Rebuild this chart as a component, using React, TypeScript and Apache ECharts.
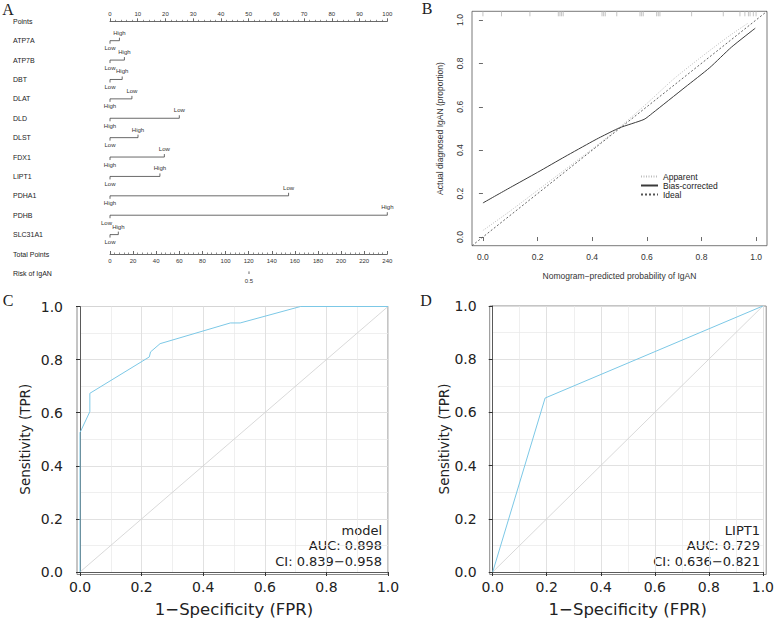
import React, { useEffect, useRef } from "react";
import * as echarts from "echarts";

// ---------- Panel A: nomogram ----------
const rowNames = ["Points", "ATP7A", "ATP7B", "DBT", "DLAT", "DLD", "DLST", "FDX1", "LIPT1", "PDHA1", "PDHB", "SLC31A1", "Total Points"];
const variables = ["ATP7A", "ATP7B", "DBT", "DLAT", "DLD", "DLST", "FDX1", "LIPT1", "PDHA1", "PDHB", "SLC31A1"];
const highPoints = [3.4, 5.2, 4.4, 0, 0, 10.1, 0, 18, 0, 100, 3];
const lowPoints = [0, 0, 0, 7.9, 25, 0, 19.6, 0, 64.4, 0, 0];
const riskLabel = "Risk of IgAN";
const riskValues = ["0.5"];
const riskTotalPoints = [120.3];

// ---------- Panel B: calibration ----------
const calTicks = [0, 0.2, 0.4, 0.6, 0.8, 1.0];
const apparentX = [0, 0.1, 0.2, 0.3, 0.4, 0.5, 0.6, 0.7, 0.8, 0.9, 0.97];
const apparentY = [0.03, 0.12, 0.215, 0.31, 0.405, 0.505, 0.615, 0.73, 0.83, 0.925, 0.985];
const biasX = [0, 0.1, 0.2, 0.3, 0.4, 0.43, 0.5, 0.59, 0.62, 0.74, 0.83, 0.91, 0.997];
const biasY = [0.157, 0.228, 0.298, 0.37, 0.44, 0.46, 0.503, 0.542, 0.57, 0.69, 0.78, 0.875, 0.962];
const idealX = [-0.04, 1.04];
const rugX = [0, 0.068, 0.172, 0.276, 0.282, 0.288, 0.294, 0.436, 0.442, 0.448, 0.49, 0.575, 0.581, 0.587, 0.636, 0.642, 0.648, 0.764, 0.88, 0.941, 0.959, 0.972, 0.978, 0.99, 1.0];

// ---------- Panel C / D: ROC ----------
const fprC = [0, 0, 0.032, 0.032, 0.225, 0.229, 0.26, 0.488, 0.52, 0.716, 1.0];
const tprC = [0, 0.525, 0.604, 0.673, 0.81, 0.829, 0.86, 0.938, 0.938, 1.0, 1.0];
const fprD = [0, 0.194, 1.0];
const tprD = [0, 0.654, 1.0];
const diagonal = [0, 1];
const annotC = ["model", "AUC: 0.898", "CI: 0.839\u22120.958"];
const annotD = ["LIPT1", "AUC: 0.729", "CI: 0.636\u22120.821"];

const SANS = "Liberation Sans";
const DJ = "DejaVu Sans";
const SERIF = "Liberation Serif";

function rocAxes(gridIndex: number, yNameGap: number, yMargin: number) {
  const common = {
    gridIndex,
    type: "value",
    min: 0,
    max: 1,
    interval: 0.2,
    axisLine: { show: true, lineStyle: { color: "#5a5a5a", width: 1 } },
    axisTick: { show: true, length: 4, lineStyle: { color: "#333", width: 1 } },
    minorTick: { show: true, splitNumber: 2, length: 0, lineStyle: { color: "#fff", width: 0 } },
    splitLine: { show: true, lineStyle: { color: "#dedede", width: 0.9 } },
    minorSplitLine: { show: true, lineStyle: { color: "#e8e8e8", width: 0.7 } },
    nameLocation: "middle",
  };
  const x = {
    ...common,
    position: "bottom",
    axisLabel: { fontFamily: DJ, fontSize: 14, color: "#222", margin: 8, formatter: (v: number) => v.toFixed(1) },
    name: "1\u2212Specificity (FPR)",
    nameGap: 29,
    nameTextStyle: { fontFamily: DJ, fontSize: 16.5, color: "#222" },
  };
  const y = {
    ...common,
    position: "left",
    offset: 3,
    axisLabel: { fontFamily: DJ, fontSize: 14, color: "#222", margin: yMargin, formatter: (v: number) => v.toFixed(1) },
    name: "Sensitivity (TPR)",
    nameGap: yNameGap,
    nameTextStyle: { fontFamily: DJ, fontSize: 13.5, color: "#222" },
  };
  return { x, y };
}

export default function App() {
  const ref = useRef<HTMLDivElement>(null);
  useEffect(() => {
    if (!ref.current) return;
    const chart = echarts.init(ref.current, null, { renderer: "svg" });
    const rocC = rocAxes(2, 45, 14);
    const rocD = rocAxes(3, 39, 13);
    const calFmt = (v: number) => v.toFixed(1);

    const annotText = (lines: string[], x: number) =>
      lines.map((t, i) => ({
        type: "text",
        x,
        y: 530 + i * 15.8,
        style: { text: t, fontFamily: DJ, fontSize: 13, fill: "#222", align: "right", verticalAlign: "middle" },
      }));

    const letter = (t: string, x: number, y: number) => ({
      type: "text",
      x,
      y,
      style: { text: t, fontFamily: SERIF, fontSize: 16, fill: "#222", align: "center", verticalAlign: "middle" },
    });

    const option: any = {
      animation: false,
      backgroundColor: "#fff",
      grid: [
        { left: 110, top: 21.3, width: 277.3, height: 232.7 },
        { left: 472, top: 11.3, width: 295, height: 234.4, show: true, borderColor: "#555", borderWidth: 0.8, backgroundColor: "transparent" },
        { left: 80, top: 306.5, width: 308, height: 268 },
        { left: 492.7, top: 306, width: 273.5, height: 268.5 },
      ],
      xAxis: [
        {
          gridIndex: 0, type: "value", position: "top", min: 0, max: 100, interval: 10,
          axisLine: { show: true, lineStyle: { color: "#444", width: 0.8 } },
          axisTick: { show: true, length: 3, lineStyle: { color: "#444", width: 0.8 } },
          minorTick: { show: true, splitNumber: 5, length: 1.5, lineStyle: { color: "#444", width: 0.6 } },
          axisLabel: { fontFamily: SANS, fontSize: 6, color: "#333", margin: 4 },
          splitLine: { show: false },
        },
        {
          gridIndex: 0, type: "value", position: "bottom", min: 0, max: 240, interval: 20,
          axisLine: { show: true, lineStyle: { color: "#444", width: 0.8 } },
          axisTick: { show: true, inside: true, length: 3, lineStyle: { color: "#444", width: 0.8 } },
          minorTick: { show: true, splitNumber: 5, length: 1.5, lineStyle: { color: "#444", width: 0.6 } },
          axisLabel: { fontFamily: SANS, fontSize: 6, color: "#333", margin: 4 },
          splitLine: { show: false },
        },
        {
          gridIndex: 1, type: "value", min: -0.04, max: 1.04,
          axisLine: { show: false },
          axisTick: { show: true, length: 4, customValues: calTicks, lineStyle: { color: "#444", width: 0.8 } },
          axisLabel: { customValues: calTicks, fontFamily: SANS, fontSize: 8.5, color: "#333", margin: 7, formatter: calFmt },
          splitLine: { show: false },
          name: "Nomogram\u2212predicted probability of IgAN",
          nameLocation: "middle",
          nameGap: 26,
          nameTextStyle: { fontFamily: SANS, fontSize: 8.5, color: "#333" },
        },
        rocC.x,
        rocD.x,
      ],
      yAxis: [
        {
          gridIndex: 0, type: "value", min: 0, max: 12, interval: 1, inverse: true,
          axisLine: { show: false }, axisTick: { show: false }, splitLine: { show: false },
          axisLabel: {
            fontFamily: SANS, fontSize: 7, color: "#222", align: "left", margin: 97,
            formatter: (v: number) => rowNames[Math.round(v)] ?? "",
          },
        },
        {
          gridIndex: 1, type: "value", min: -0.04, max: 1.04,
          axisLine: { show: false },
          axisTick: { show: true, length: 4, customValues: calTicks, lineStyle: { color: "#444", width: 0.8 } },
          axisLabel: { customValues: calTicks, fontFamily: SANS, fontSize: 8.5, color: "#333", margin: 8, rotate: 90, formatter: calFmt },
          splitLine: { show: false },
          name: "Actual diagnosed IgAN (proportion)",
          nameLocation: "middle",
          nameGap: 28,
          nameTextStyle: { fontFamily: SANS, fontSize: 8.5, color: "#333" },
        },
        rocC.y,
        rocD.y,
      ],
      legend: {
        data: ["Apparent", "Bias-corrected", "Ideal"],
        orient: "vertical",
        left: 640,
        top: 172,
        padding: 0,
        itemGap: 0,
        itemWidth: 17,
        itemHeight: 4,
        selectedMode: false,
        itemStyle: { opacity: 0 },
        textStyle: { fontFamily: SANS, fontSize: 8.5, color: "#222", lineHeight: 9 },
      },
      graphic: [
        {
          type: "rect", silent: true, z: 0,
          shape: { x: 77, y: 306.5, width: 311, height: 268 },
          style: { fill: "none", stroke: "#8a8a8a", lineWidth: 1 },
        },
        {
          type: "rect", silent: true, z: 0,
          shape: { x: 489.7, y: 306, width: 276.5, height: 268.5 },
          style: { fill: "none", stroke: "#8a8a8a", lineWidth: 1 },
        },
        {
          type: "text", x: 13, y: 273.4,
          style: { text: riskLabel, fontFamily: SANS, fontSize: 7, fill: "#222", align: "left", verticalAlign: "middle" },
        },
        ...annotText(annotC, 382),
        ...annotText(annotD, 760),
        letter("A", 8, 9),
        letter("B", 427, 8),
        letter("C", 8, 300),
        letter("D", 426, 300),
      ],
      series: [
        {
          type: "custom",
          xAxisIndex: 0,
          yAxisIndex: 0,
          clip: false,
          silent: true,
          data: variables.map((_, i) => [i + 1, Math.min(highPoints[i], lowPoints[i]), Math.max(highPoints[i], lowPoints[i])]),
          renderItem: (params: any, api: any) => {
            const i = params.dataIndex;
            const row = api.value(0);
            const a = api.coord([api.value(1), row]);
            const b = api.coord([api.value(2), row]);
            const leftLabel = highPoints[i] <= lowPoints[i] ? "High" : "Low";
            const rightLabel = leftLabel === "High" ? "Low" : "High";
            let shift = 0;
            if (i + 1 < variables.length) {
              const nextEnd = api.coord([Math.max(highPoints[i + 1], lowPoints[i + 1]), row + 1]);
              if (nextEnd[0] - a[0] < 10) shift = 3.5;
            }
            const ls = { stroke: "#444", lineWidth: 0.8 };
            const ts = { fontFamily: SANS, fontSize: 6, fill: "#333", align: "center", verticalAlign: "middle" };
            return {
              type: "group",
              children: [
                { type: "line", shape: { x1: a[0], y1: a[1], x2: b[0], y2: b[1] }, style: ls },
                { type: "line", shape: { x1: a[0], y1: a[1], x2: a[0], y2: a[1] + 3 }, style: ls },
                { type: "line", shape: { x1: b[0], y1: b[1], x2: b[0], y2: b[1] - 3 }, style: ls },
                { type: "text", x: a[0] - shift, y: a[1] + 7.5, style: { ...ts, text: leftLabel } },
                { type: "text", x: b[0], y: b[1] - 8, style: { ...ts, text: rightLabel } },
              ],
            };
          },
        },
        {
          type: "custom",
          xAxisIndex: 1,
          yAxisIndex: 0,
          clip: false,
          silent: true,
          data: riskTotalPoints.map((p) => [p, 13]),
          renderItem: (params: any, api: any) => {
            const i = params.dataIndex;
            const c = api.coord([api.value(0), api.value(1)]);
            return {
              type: "group",
              children: [
                { type: "line", shape: { x1: c[0], y1: c[1] + 0.6, x2: c[0], y2: c[1] - 2 }, style: { stroke: "#444", lineWidth: 0.8 } },
                { type: "text", x: c[0], y: c[1] + 7.3, style: { text: riskValues[i], fontFamily: SANS, fontSize: 6, fill: "#333", align: "center", verticalAlign: "middle" } },
              ],
            };
          },
        },
        {
          name: "Apparent",
          type: "line",
          xAxisIndex: 2,
          yAxisIndex: 1,
          symbol: "none",
          smooth: 0.2,
          silent: true,
          data: apparentX.map((x, i) => [x, apparentY[i]]),
          lineStyle: { color: "#bdbdbd", width: 1, type: [1, 1.5] },
          itemStyle: { color: "#bdbdbd" },
        },
        {
          name: "Bias-corrected",
          type: "line",
          xAxisIndex: 2,
          yAxisIndex: 1,
          symbol: "none",
          smooth: 0.2,
          silent: true,
          data: biasX.map((x, i) => [x, biasY[i]]),
          lineStyle: { color: "#3a3a3a", width: 1 },
          itemStyle: { color: "#3a3a3a" },
        },
        {
          name: "Ideal",
          type: "line",
          xAxisIndex: 2,
          yAxisIndex: 1,
          symbol: "none",
          silent: true,
          data: idealX.map((x) => [x, x]),
          lineStyle: { color: "#555", width: 0.9, type: [2, 2] },
          itemStyle: { color: "#555" },
        },
        {
          type: "custom",
          xAxisIndex: 2,
          yAxisIndex: 1,
          silent: true,
          clip: false,
          data: rugX.map((x) => [x, 1.04]),
          renderItem: (params: any, api: any) => {
            const c = api.coord([api.value(0), api.value(1)]);
            return { type: "line", shape: { x1: c[0], y1: c[1], x2: c[0], y2: c[1] + 5 }, style: { stroke: "#b5b5b5", lineWidth: 0.8 } };
          },
        },
        {
          type: "line", xAxisIndex: 3, yAxisIndex: 2, symbol: "none", silent: true,
          data: diagonal.map((v) => [v, v]),
          lineStyle: { color: "#cfcfcf", width: 0.8 },
        },
        {
          type: "line", xAxisIndex: 3, yAxisIndex: 2, symbol: "none", silent: true,
          data: fprC.map((x, i) => [x, tprC[i]]),
          lineStyle: { color: "#7cc8e6", width: 1 },
        },
        {
          type: "line", xAxisIndex: 4, yAxisIndex: 3, symbol: "none", silent: true,
          data: diagonal.map((v) => [v, v]),
          lineStyle: { color: "#cfcfcf", width: 0.8 },
        },
        {
          type: "line", xAxisIndex: 4, yAxisIndex: 3, symbol: "none", silent: true,
          data: fprD.map((x, i) => [x, tprD[i]]),
          lineStyle: { color: "#7cc8e6", width: 1 },
        },
      ],
    };
    chart.setOption(option);
    return () => chart.dispose();
  }, []);
  return (
    <div
      ref={ref}
      style={{ position: "absolute", left: 0, top: 0, width: 777, height: 619, background: "#fff" }}
    />
  );
}
